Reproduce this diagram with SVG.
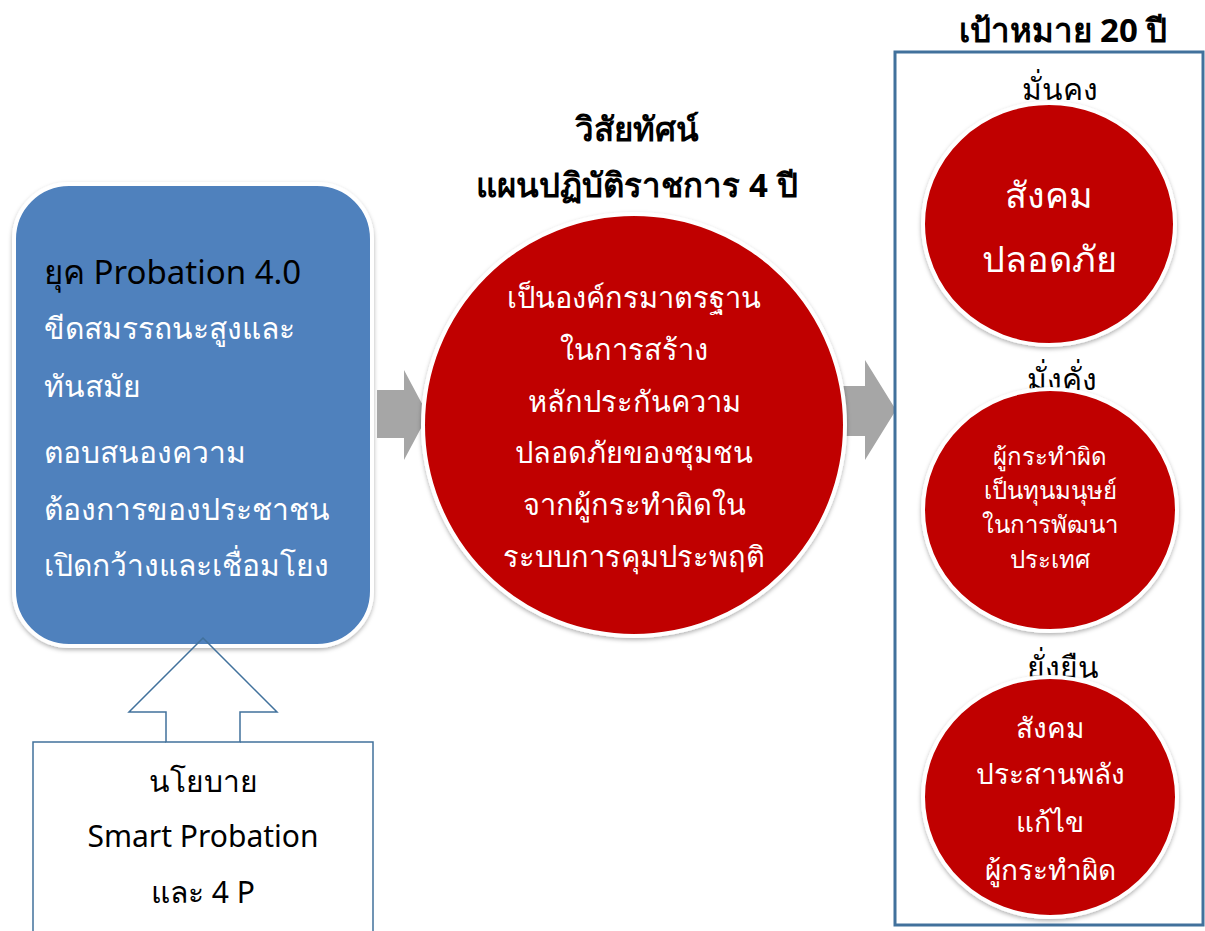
<svg xmlns="http://www.w3.org/2000/svg" width="1205" height="931" viewBox="0 0 1205 931">
<defs>
<filter id="sh" x="-10%" y="-10%" width="120%" height="120%">
<feDropShadow dx="0" dy="2" stdDeviation="2" flood-color="#000" flood-opacity="0.3"/>
</filter>
</defs>
<style>
text{font-family:"Noto Sans","DejaVu Sans",sans-serif;}
.t{font-size:30px;fill:#000;text-anchor:middle;}
.h{font-size:33px;font-weight:bold;fill:#000;text-anchor:middle;}
.w{fill:#fff;text-anchor:middle;}
.bl{fill:#fff;font-size:30px;}
.red{fill:#C00000;stroke:#fff;stroke-width:4;filter:url(#sh);}
.gray{fill:#A6A6A6;}
</style>
<rect width="1205" height="931" fill="#fff"/>
<g id="era">
<rect x="14" y="184" width="358" height="462" rx="55" fill="#4F81BD" stroke="#fff" stroke-width="4" filter="url(#sh)"/>
<text x="44" y="284" font-size="33" fill="#000">ยุค Probation 4.0</text>
<text class="bl" x="44" y="339">ขีดสมรรถนะสูงและ</text>
<text class="bl" x="44" y="397">ทันสมัย</text>
<text class="bl" x="44" y="463">ตอบสนองความ</text>
<text class="bl" x="44" y="520">ต้องการของประชาชน</text>
<text class="bl" x="44" y="576">เปิดกว้างและเชื่อมโยง</text>
</g>
<g id="policy">
<path d="M33,935 V742 H166 M240,742 H373 V935" fill="#fff" stroke="#41719C" stroke-width="1.5"/>
<text class="t" x="203" y="792">นโยบาย</text>
<text class="t" x="203" y="847">Smart Probation</text>
<text class="t" x="203" y="903">และ 4 P</text>
</g>
<g id="connectors">
<polygon class="gray" points="377,390 404,390 404,370 428,415 404,460 404,438 377,438"/>
<polygon class="gray" points="843,386 865,386 865,360 896,410 865,460 865,436 843,436"/>
<polygon points="203,638 277,712 240,712 240,742 166,742 166,712 129,712" fill="none" stroke="#41719C" stroke-width="1.5"/>
</g>
<g id="vision">
<text class="h" x="637" y="141">วิสัยทัศน์</text>
<text class="h" x="637" y="197">แผนปฏิบัติราชการ 4 ปี</text>
<circle class="red" cx="634" cy="425" r="211"/>
<g class="w" font-size="29">
<text x="634" y="308">เป็นองค์กรมาตรฐาน</text>
<text x="634" y="360">ในการสร้าง</text>
<text x="634" y="412">หลักประกันความ</text>
<text x="634" y="463">ปลอดภัยของชุมชน</text>
<text x="634" y="515">จากผู้กระทำผิดใน</text>
<text x="634" y="567">ระบบการคุมประพฤติ</text>
</g>
</g>
<g id="goals">
<rect x="895" y="52" width="308" height="873" fill="#fff" stroke="#41719C" stroke-width="3"/>
<text class="h" x="1063" y="42">เป้าหมาย 20 ปี</text>
</g>
<g id="goal1">
<text class="t" x="1060" y="100">มั่นคง</text>
<ellipse class="red" cx="1049" cy="224" rx="126" ry="121"/>
<text class="w" font-size="36" x="1049" y="208">สังคม</text>
<text class="w" font-size="36" x="1049" y="272">ปลอดภัย</text>
</g>
<g id="goal2">
<text class="t" x="1062" y="390">มั่งคั่ง</text>
<ellipse class="red" cx="1050" cy="510" rx="127" ry="121"/>
<g class="w" font-size="24">
<text x="1050" y="465">ผู้กระทำผิด</text>
<text x="1050" y="499">เป็นทุนมนุษย์</text>
<text x="1050" y="533">ในการพัฒนา</text>
<text x="1050" y="568">ประเทศ</text>
</g>
</g>
<g id="goal3">
<text class="t" x="1063" y="678">ยั่งยืน</text>
<ellipse class="red" cx="1050" cy="797" rx="127" ry="120"/>
<g class="w" font-size="28">
<text x="1050" y="738">สังคม</text>
<text x="1050" y="784">ประสานพลัง</text>
<text x="1050" y="832">แก้ไข</text>
<text x="1050" y="880">ผู้กระทำผิด</text>
</g>
</g>
</svg>
